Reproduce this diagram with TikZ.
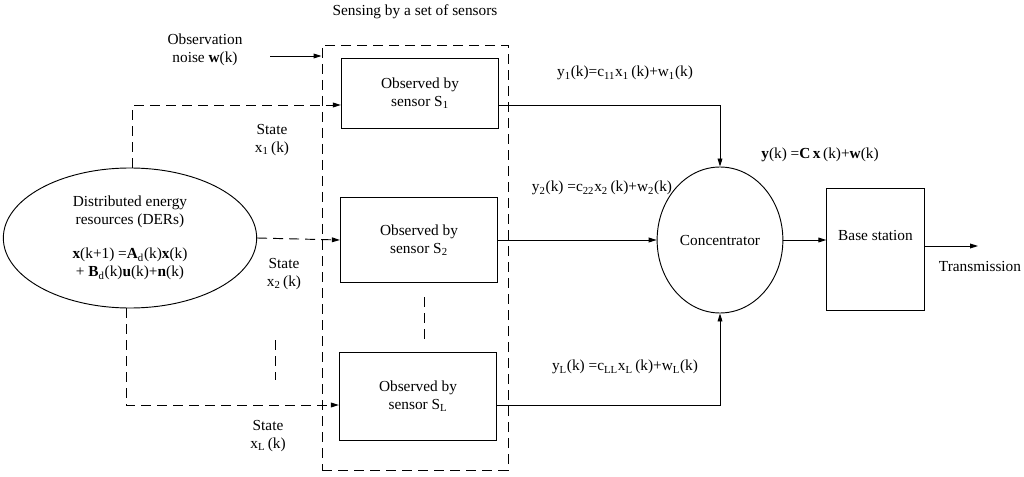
\documentclass[tikz,border=0pt]{standalone}
\usepackage{fontspec}
\setmainfont{Liberation Serif}
\newfontfamily\timesfont{Liberation Serif}
\usetikzlibrary{shapes.geometric, arrows.meta}

\begin{document}
\begin{tikzpicture}[x=0.75pt, y=-0.75pt, >={Triangle[length=6pt, width=3.6pt]},
    font=\timesfont\fontsize{11.5}{13.5}\selectfont, line width=0.7pt,
    dsh/.style={dash pattern=on 7.5pt off 4.5pt},
    sensorbox/.style={draw, rectangle, minimum width=118pt, align=center},
    lbl/.style={align=center, inner sep=0pt}]

    \useasboundingbox (0,0) rectangle (1024,477);

    % Sources and sensor group
    \node[draw, ellipse, minimum width=190pt, minimum height=105pt, inner sep=0pt, align=center] (der) at (130,238)
        {Distributed energy\\resources (DERs)\\[12pt]
         \textbf{x}(k+1) =\textbf{A}\textsubscript{d}(k)\textbf{x}(k)\\
         + \textbf{B}\textsubscript{d}(k)\textbf{u}(k)+\textbf{n}(k)};
    \node[draw, dsh, minimum width=139.5pt, minimum height=318.75pt] (group) at (415,257.5) {};
    \node[lbl] (grouptitle) at (415,12) {Sensing by a set of sensors};

    % Sensors
    \node[sensorbox, minimum height=52.5pt] (s1) at (420,93) {Observed by\\sensor S\textsubscript{1}};
    \node[sensorbox, minimum height=63.75pt] (s2) at (419,240) {Observed by\\sensor S\textsubscript{2}};
    \node[sensorbox, minimum height=66pt] (sL) at (418,396) {Observed by\\sensor S\textsubscript{L}};

    % Concentrator and base station
    \node[draw, ellipse, minimum width=82.5pt, minimum height=109.5pt] (conc) at (720,240) {Concentrator};
    \node[draw, rectangle, minimum width=73pt, minimum height=91.5pt, text depth=20pt] (base) at (875.5,249) {Base station};

    % Observation noise
    \node[lbl] (noise) at (205,50) {Observation\\noise \textbf{w}(k)};
    \coordinate (noisestart) at (270,56);
    \draw[->] (noisestart) -- (noisestart -| group.west);

    % States
    \draw[dsh, ->] ([xshift=2pt]der.north) |- ([yshift=-9pt]s1.west);
    \draw[dsh, ->] (der.east) -- (s2.west);
    \draw[dsh, ->] ([xshift=-3pt]der.south) |- ([yshift=-6.75pt]sL.west);
    \node[lbl] (state1) at (272,140) {State\\x\textsubscript{1}\,(k)};
    \node[lbl] (state2) at (284,274) {State\\x\textsubscript{2}\,(k)};
    \node[lbl] (stateL) at (268,436) {State\\x\textsubscript{L}\,(k)};

    % Dots
    \draw[dsh] (424,297) -- (424,340);
    \draw[dsh] (275,340) -- (275,380);

    % Measurements
    \draw[->] ([yshift=-9pt]s1.east) -| (conc.north);
    \draw[->] (s2.east) -- (conc.west);
    \draw[->] ([yshift=-6.75pt]sL.east) -| (conc.south);
    \node[lbl] (y1) at (625,73) {y\textsubscript{1}(k)=c\textsubscript{11}x\textsubscript{1}\,(k)+w\textsubscript{1}(k)};
    \node[lbl] (y2) at (602,188) {y\textsubscript{2}(k) =c\textsubscript{22}x\textsubscript{2}\,(k)+w\textsubscript{2}(k)};
    \node[lbl] (yL) at (625,367) {y\textsubscript{L}(k) =c\textsubscript{LL}x\textsubscript{L}\,(k)+w\textsubscript{L}(k)};
    \node[lbl] (yall) at (820,155) {\textbf{y}(k) =\textbf{C}\,\textbf{x}\,(k)+\textbf{w}(k)};

    % Output
    \draw[->] (conc.east) -- (conc.east -| base.west);
    \coordinate (txend) at (978,246);
    \draw[->] (txend -| base.east) -- (txend);
    \node[lbl] (tx) at (980,266) {Transmission};

\end{tikzpicture}
\end{document}
